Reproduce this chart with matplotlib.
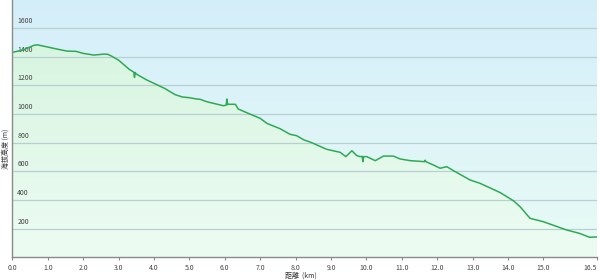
import numpy as np
import matplotlib
matplotlib.use("Agg")
import matplotlib.pyplot as plt
from matplotlib.colors import LinearSegmentedColormap

plt.rcParams['font.family'] = ['Noto Sans CJK TC', 'DejaVu Sans']

# elevation profile
dist_km = [0.0, 0.3, 0.6, 0.7, 1.0, 1.3, 1.54, 1.8, 2.0, 2.3, 2.6, 2.7, 2.8, 3.0, 3.3,
           3.43, 3.45, 3.47, 3.5, 3.8, 4.0, 4.3, 4.6, 4.8, 5.0, 5.2, 5.3, 5.49, 5.96,
           6.04, 6.06, 6.08, 6.1, 6.3, 6.38, 6.71, 7.0, 7.19, 7.56, 7.84, 8.03, 8.24,
           8.41, 8.88, 9.26, 9.42, 9.59, 9.73, 9.82, 9.88, 9.90, 9.92, 10.01, 10.25,
           10.48, 10.76, 10.95, 11.24, 11.64, 11.66, 11.68, 11.89, 12.08, 12.27, 12.46,
           12.93, 13.21, 13.78, 14.16, 14.34, 14.62, 14.99, 15.65, 16.02, 16.30, 16.49]
elev_m = [1430, 1446, 1478, 1483, 1467, 1451, 1439, 1437, 1423, 1411, 1418, 1416, 1404,
          1376, 1312, 1292, 1255, 1290, 1279, 1237, 1214, 1179, 1135, 1119, 1114, 1105,
          1103, 1086, 1058, 1062, 1105, 1066, 1068, 1068, 1035, 1000, 970, 935, 898, 859,
          849, 819, 805, 754, 733, 703, 744, 710, 703, 705, 668, 703, 703, 675, 707, 707,
          687, 675, 668, 678, 668, 645, 622, 633, 605, 540, 517, 452, 394, 354, 273, 250,
          192, 168, 141, 143]

x_ticks = [0.0, 1.0, 2.0, 3.0, 4.0, 5.0, 6.0, 7.0, 8.0, 9.0, 10.0, 11.0, 12.0, 13.0,
           14.0, 15.0, 16.5]
y_ticks = [200, 400, 600, 800, 1000, 1200, 1400, 1600]

fig = plt.figure(figsize=(6, 2.8), dpi=100)
ax = fig.add_axes([0.0205, 0.0804, 0.975, 0.9196])
xmax, ymax = 16.52, 1795
ax.set_xlim(0, xmax)
ax.set_ylim(0, ymax)

# background gradient (light blue top -> mint bottom)
bg = LinearSegmentedColormap.from_list("bg", ["#e8fbf5", "#d4eefa"])
ax.imshow(np.linspace(0, 1, 256).reshape(-1, 1), cmap=bg, origin="lower",
          extent=[0, xmax, 0, ymax], aspect="auto", zorder=0)

# green area fill with gradient
fill = ax.fill_between(dist_km, elev_m, 0, color="none", zorder=1)
fg = LinearSegmentedColormap.from_list("fg", ["#edfcf3", "#d8f5e0"])
img = ax.imshow(np.linspace(0, 1, 256).reshape(-1, 1), cmap=fg, origin="lower",
                extent=[0, xmax, 0, 1490], aspect="auto", zorder=1)
path = fill.get_paths()[0]
img.set_clip_path(path, transform=ax.transData)

for y in y_ticks:
    ax.axhline(y, color="#b9cfd6", lw=0.9, zorder=2)
    ax.text(0.14, y + 22, str(y), fontsize=5, color="#444444",
            va="bottom", ha="left", zorder=3)

ax.plot(dist_km, elev_m, color="#2fa956", lw=1.1, zorder=4)

for s in ["top", "right"]:
    ax.spines[s].set_visible(False)
for s in ["left", "bottom"]:
    ax.spines[s].set_color("#8a8a8a")
    ax.spines[s].set_linewidth(1.0)
ax.spines["left"].set_zorder(5)

ax.set_yticks([])
ax.set_xticks(x_ticks)
ax.set_xticklabels([f"{t:.1f}" for t in x_ticks], fontsize=5, color="#444444")
ax.get_xticklabels()[-1].set_horizontalalignment("right")
ax.tick_params(axis="x", length=2.5, width=0.8, color="#8a8a8a", pad=2)

fig.text(0.009, 0.47, "海拔高度 (m)", rotation=90, fontsize=5, color="#333333",
         ha="center", va="center")
fig.text(0.502, 0.015, "距離  (km)", fontsize=5, color="#333333", ha="center", va="center")

fig.savefig("out.png", dpi=100)
